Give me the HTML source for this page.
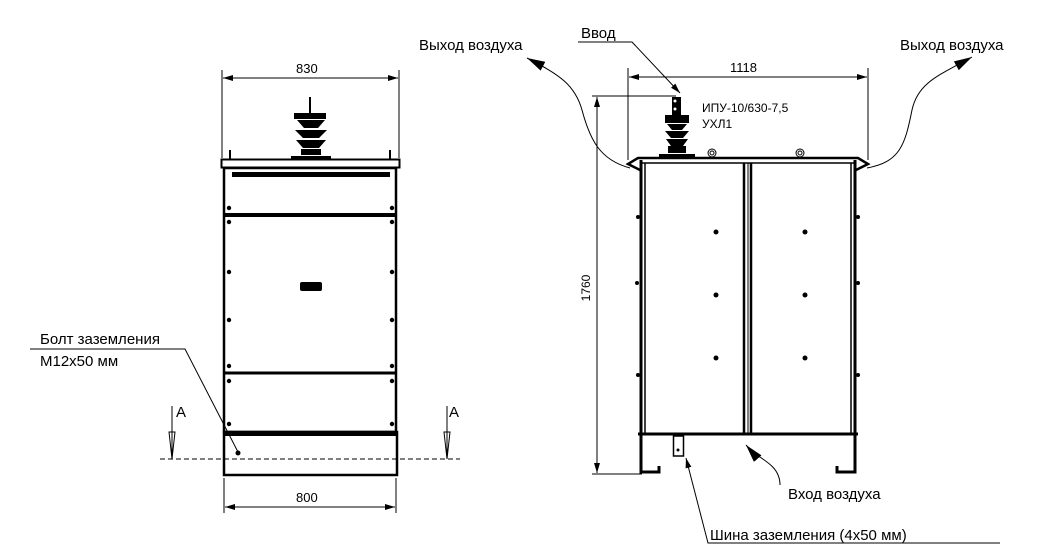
<!DOCTYPE html>
<html><head><meta charset="utf-8"><style>
html,body{margin:0;padding:0;background:#fff;}
svg{display:block}
text{font-family:"Liberation Sans",sans-serif;fill:#000}
</style></head><body>
<svg width="1042" height="558" viewBox="0 0 1042 558" xmlns="http://www.w3.org/2000/svg">
<defs>
<marker id="a" markerWidth="10" markerHeight="6" refX="10" refY="3" orient="auto" markerUnits="userSpaceOnUse"><path d="M0,0 L10,3 L0,6 z" fill="#000"/></marker>
<marker id="b" markerWidth="18" markerHeight="10" refX="18" refY="5" orient="auto" markerUnits="userSpaceOnUse"><path d="M0,0 L18,5 L0,10 z" fill="#000"/></marker>
</defs>
<g stroke="#000" fill="none" stroke-width="1">
<line x1="222" y1="70" x2="222" y2="158"/><line x1="399" y1="70" x2="399" y2="158"/>
<line x1="223" y1="78" x2="398" y2="78" marker-end="url(#a)"/><line x1="398" y1="78" x2="223" y2="78" marker-end="url(#a)"/>
<line x1="310" y1="97" x2="310" y2="117" stroke-width="2"/>
<rect x="221.5" y="159.5" width="178" height="8" stroke-width="2"/>
<line x1="230" y1="150" x2="230" y2="159" stroke-width="2"/><line x1="390" y1="150" x2="390" y2="159" stroke-width="2"/>
<rect x="224" y="168" width="172" height="264" stroke-width="2.5"/>
<line x1="224" y1="215" x2="396" y2="215" stroke-width="4"/>
<line x1="224" y1="373" x2="396" y2="373" stroke-width="3"/>
<rect x="224" y="432" width="173" height="43" stroke-width="2.5"/>
<line x1="224" y1="434" x2="397" y2="434" stroke-width="4"/>
<line x1="160" y1="459" x2="460" y2="459" stroke-dasharray="5,3"/>
<line x1="172" y1="406" x2="172" y2="459"/><line x1="447" y1="406" x2="447" y2="459"/>
<path d="M169,432 L172,459 L175,432 z"/><path d="M444,432 L447,459 L450,432 z"/>
<line x1="224" y1="478" x2="224" y2="513"/><line x1="396" y1="478" x2="396" y2="513"/>
<line x1="225" y1="507" x2="395" y2="507" marker-end="url(#a)"/><line x1="395" y1="507" x2="225" y2="507" marker-end="url(#a)"/>
<polyline points="30,349 185,349 238,452"/>

<line x1="628" y1="68" x2="628" y2="160"/><line x1="868" y1="68" x2="868" y2="160"/>
<line x1="629" y1="77" x2="867" y2="77" marker-end="url(#a)"/><line x1="867" y1="77" x2="629" y2="77" marker-end="url(#a)"/>
<line x1="592" y1="96" x2="676" y2="96"/><line x1="592" y1="474" x2="642" y2="474"/>
<line x1="597" y1="97" x2="597" y2="473" marker-end="url(#a)"/><line x1="597" y1="473" x2="597" y2="97" marker-end="url(#a)"/>
<path d="M640,170 L628,164 L638,158 L858,158 L868,164 L856,170" stroke-width="2.5"/>
<line x1="640" y1="163" x2="856" y2="163" stroke-width="1.5"/>
<circle cx="712" cy="153" r="4"/><circle cx="712" cy="153" r="2"/>
<circle cx="800" cy="153" r="4"/><circle cx="800" cy="153" r="2"/>
<line x1="641" y1="160" x2="641" y2="435" stroke-width="3"/><line x1="645" y1="163" x2="645" y2="435" stroke-width="1.5"/>
<line x1="855" y1="160" x2="855" y2="435" stroke-width="3"/><line x1="851" y1="163" x2="851" y2="435" stroke-width="1.5"/>
<line x1="744" y1="163" x2="744" y2="435" stroke-width="2.5"/><line x1="748" y1="163" x2="748" y2="435" stroke-width="1"/><line x1="751" y1="163" x2="751" y2="435" stroke-width="2.5"/>
<line x1="638" y1="434" x2="858" y2="434" stroke-width="3"/>
<path d="M641,435 L641,472 L659,472 L659,466" stroke-width="3"/>
<path d="M855,435 L855,472 L837,472 L837,466" stroke-width="3"/>
<rect x="673.5" y="436" width="10" height="20" stroke-width="1.5"/>
<polyline points="578,42 632,42 680,93" marker-end="url(#a)"/>
<path d="M630,168 C600,160 590,140 582,110 C575,85 560,75 527,58" marker-end="url(#b)"/>
<path d="M867,168 C900,162 905,145 912,110 C918,82 940,75 972,57" marker-end="url(#b)"/>
<path d="M780,485 C780,470 770,463 752,452 L746,445" marker-end="url(#b)"/>
<polyline points="1000,543 708,543 686,458" marker-end="url(#a)"/>
</g>
<g fill="#000">
<rect x="294" y="113" width="32" height="6"/>
<path d="M297,120 L325,120 L318,128 L304,128 z"/>
<path d="M295,130 L327,130 L319,138 L303,138 z"/>
<path d="M296,140 L326,140 L319,148 L303,148 z"/>
<rect x="301" y="149" width="20" height="6"/>
<rect x="291" y="156" width="40" height="3"/>
<rect x="232" y="172" width="158" height="5"/>
<rect x="300" y="282" width="22" height="9" rx="2"/>
<circle cx="229" cy="208" r="2.2"/><circle cx="392" cy="208" r="2.2"/>
<circle cx="229" cy="222" r="2.2"/><circle cx="392" cy="222" r="2.2"/>
<circle cx="229" cy="272" r="2.2"/><circle cx="392" cy="272" r="2.2"/>
<circle cx="229" cy="320" r="2.2"/><circle cx="392" cy="320" r="2.2"/>
<circle cx="229" cy="366" r="2.2"/><circle cx="392" cy="366" r="2.2"/>
<circle cx="229" cy="381" r="2.2"/><circle cx="392" cy="381" r="2.2"/>
<circle cx="229" cy="424" r="2.2"/><circle cx="392" cy="424" r="2.2"/>
<circle cx="238" cy="453" r="2.5"/>
<rect x="672" y="97" width="9" height="19"/>
<rect x="665" y="115" width="24" height="8"/>
<path d="M667,124 L687,124 L682,130 L672,130 z"/>
<path d="M665,131 L689,131 L683,138 L671,138 z"/>
<path d="M666,139 L688,139 L683,146 L671,146 z"/>
<rect x="668" y="146" width="18" height="7"/>
<rect x="659" y="154" width="36" height="4"/>
<circle cx="716" cy="232" r="2.5"/><circle cx="805" cy="232" r="2.5"/>
<circle cx="716" cy="295" r="2.5"/><circle cx="805" cy="295" r="2.5"/>
<circle cx="716" cy="358" r="2.5"/><circle cx="805" cy="358" r="2.5"/>
<circle cx="638" cy="217" r="2"/><circle cx="858" cy="217" r="2"/>
<circle cx="637" cy="283" r="2"/><circle cx="858" cy="283" r="2"/>
<circle cx="638" cy="375" r="2"/><circle cx="858" cy="375" r="2"/>
<circle cx="678" cy="450" r="1.5"/>
</g>
<circle cx="675" cy="101" r="1.5" fill="#fff"/><circle cx="675" cy="109" r="1.5" fill="#fff"/>
<g font-size="13">
<text x="296" y="73">830</text>
<text x="296" y="502">800</text>
<text x="40" y="344" font-size="15">Болт заземления</text>
<text x="40" y="366" font-size="15">М12х50 мм</text>
<text x="176" y="417" font-size="15">А</text>
<text x="449" y="417" font-size="15">А</text>
<text x="730" y="72">1118</text>
<text x="702" y="112" font-size="12">ИПУ-10/630-7,5</text>
<text x="702" y="128" font-size="12">УХЛ1</text>
<text x="590" y="288" font-size="12" transform="rotate(-90 590 288)" text-anchor="middle">1760</text>
<text x="419" y="50" font-size="15">Выход воздуха</text>
<text x="581" y="38" font-size="15">Ввод</text>
<text x="900" y="50" font-size="15">Выход воздуха</text>
<text x="788" y="499" font-size="15">Вход воздуха</text>
<text x="710" y="540" font-size="15">Шина заземления (4х50 мм)</text>
</g>
</svg>
</body></html>
